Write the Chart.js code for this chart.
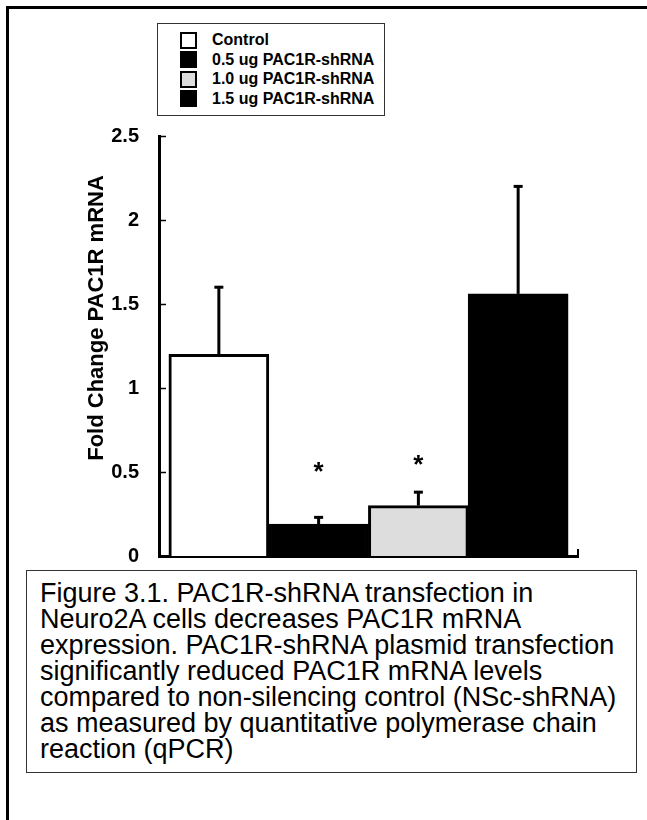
<!DOCTYPE html>
<html><head><meta charset="utf-8">
<script src="https://cdn.jsdelivr.net/npm/chart.js@4/dist/chart.umd.min.js"></script>
<style>
html,body{margin:0;padding:0;background:#fff;width:647px;height:820px;overflow:hidden;}
#frame{position:absolute;left:6px;top:6px;width:700px;height:900px;border:3px solid #000;box-sizing:border-box;}
#cv{position:absolute;left:0;top:0;}
#legend{position:absolute;left:157px;top:23px;width:228px;height:93px;border:1.5px solid #333;box-sizing:border-box;background:#fff;font:bold 16px "Liberation Sans",Arial,sans-serif;color:#000;}
.row{position:absolute;left:22px;height:18px;display:flex;align-items:center;white-space:nowrap;}
.sw{width:17px;height:17px;box-sizing:border-box;border:2.5px solid #000;margin-right:15px;}
#caption{position:absolute;left:26px;top:570px;width:611px;height:203px;border:1.5px solid #333;box-sizing:border-box;background:#fff;font:27px "Liberation Sans",Arial,sans-serif;line-height:26px;padding:9px 0 0 13px;white-space:nowrap;color:#000;}
</style></head>
<body>
<div id="frame"></div>
<canvas id="cv" width="647" height="820"></canvas>
<div id="legend"></div>
<div id="caption"></div>
<script>
const categories = ['Control', '0.5 ug PAC1R-shRNA', '1.0 ug PAC1R-shRNA', '1.5 ug PAC1R-shRNA'];
const foldChange = [1.20, 0.19, 0.30, 1.56];
const errorUp = [0.40, 0.04, 0.08, 0.64];
const significance = ['', '*', '*', ''];
const starLevel = [null, 0.53, 0.57, null];
const yTicks = [0, 0.5, 1, 1.5, 2, 2.5];
const yTickLabels = ['0', '0.5', '1', '1.5', '2', '2.5'];
const yTitle = 'Fold Change PAC1R mRNA';
const captionLines = [
  'Figure 3.1. PAC1R-shRNA transfection in',
  'Neuro2A cells decreases PAC1R mRNA',
  'expression. PAC1R-shRNA plasmid transfection',
  'significantly reduced PAC1R mRNA levels',
  'compared to non-silencing control (NSc-shRNA)',
  'as measured by quantitative polymerase chain',
  'reaction (qPCR)'
];

const barFill = ['#ffffff', '#000000', '#dcdddc', '#000000'];

// legend (HTML)
const lg = document.getElementById('legend');
const rowTops = [7, 26.5, 46, 65.5];
categories.forEach((c, i) => {
  const r = document.createElement('div');
  r.className = 'row';
  r.style.top = rowTops[i] + 'px';
  const s = document.createElement('div');
  s.className = 'sw';
  s.style.background = barFill[i];
  const t = document.createElement('span');
  t.textContent = c;
  r.appendChild(s); r.appendChild(t);
  lg.appendChild(r);
});
// caption
const cap = document.getElementById('caption');
captionLines.forEach(l => { const d = document.createElement('div'); d.textContent = l; cap.appendChild(d); });

const marks = {
  id: 'marks',
  afterDatasetsDraw(chart) {
    const ctx = chart.ctx, y = chart.scales.y, meta = chart.getDatasetMeta(0);
    const area = chart.chartArea;
    ctx.save();
    ctx.strokeStyle = '#000'; ctx.fillStyle = '#000';
    meta.data.forEach((bar, i) => {
      const top = y.getPixelForValue(foldChange[i]);
      const capY = y.getPixelForValue(foldChange[i] + errorUp[i]);
      ctx.lineWidth = 3;
      ctx.beginPath(); ctx.moveTo(bar.x, top); ctx.lineTo(bar.x, capY); ctx.stroke();
      ctx.fillRect(bar.x - 4.5, capY - 1.5, 9, 3);
      if (significance[i]) {
        ctx.font = 'bold 26px "Liberation Sans", Arial';
        ctx.textAlign = 'center'; ctx.textBaseline = 'middle';
        ctx.fillText(significance[i], bar.x, y.getPixelForValue(starLevel[i]) + 6);
      }
    });
    ctx.lineWidth = 1.5;
    yTicks.forEach(v => {
      const py = Math.round(y.getPixelForValue(v)) + 0.5;
      ctx.beginPath(); ctx.moveTo(area.left, py); ctx.lineTo(area.left + 7, py); ctx.stroke();
    });
    ctx.lineWidth = 2;
    const by = y.getPixelForValue(0);
    ctx.beginPath(); ctx.moveTo(area.right, by); ctx.lineTo(area.right, by - 7); ctx.stroke();
    // y axis title
    ctx.translate(97, 318);
    ctx.rotate(-Math.PI / 2);
    ctx.font = 'bold 22px "Liberation Sans", Arial';
    ctx.textAlign = 'center'; ctx.textBaseline = 'middle';
    ctx.fillText(yTitle, 0, 0);
    ctx.restore();
  }
};

new Chart(document.getElementById('cv'), {
  type: 'bar',
  data: {
    datasets: [{
      data: foldChange.map((v, i) => ({x: i, y: v})),
      backgroundColor: barFill,
      borderColor: '#000',
      borderWidth: 3,
      barThickness: 100
    }]
  },
  options: {
    responsive: false,
    animation: false,
    devicePixelRatio: 1,
    layout: {padding: {left: 0, top: 136, right: 69, bottom: 264}},
    plugins: {legend: {display: false}, tooltip: {enabled: false}},
    scales: {
      x: {
        type: 'linear', min: -0.6, max: 3.6, offset: false,
        ticks: {display: false},
        grid: {display: false},
        border: {display: true, color: '#000', width: 3},
        afterFit: s => { s.height = 0; }
      },
      y: {
        min: 0, max: 2.5,
        afterBuildTicks: s => { s.ticks = yTicks.map(v => ({value: v})); },
        ticks: {color: '#000', padding: 12,
                callback: (v, i) => yTickLabels[i],
                font: {family: '"Liberation Sans", Arial', size: 20, weight: 'bold'}},
        grid: {display: false},
        border: {display: true, color: '#000', width: 3},
        afterFit: s => { s.width = 159; }
      }
    }
  },
  plugins: [marks]
});
</script>
</body></html>
